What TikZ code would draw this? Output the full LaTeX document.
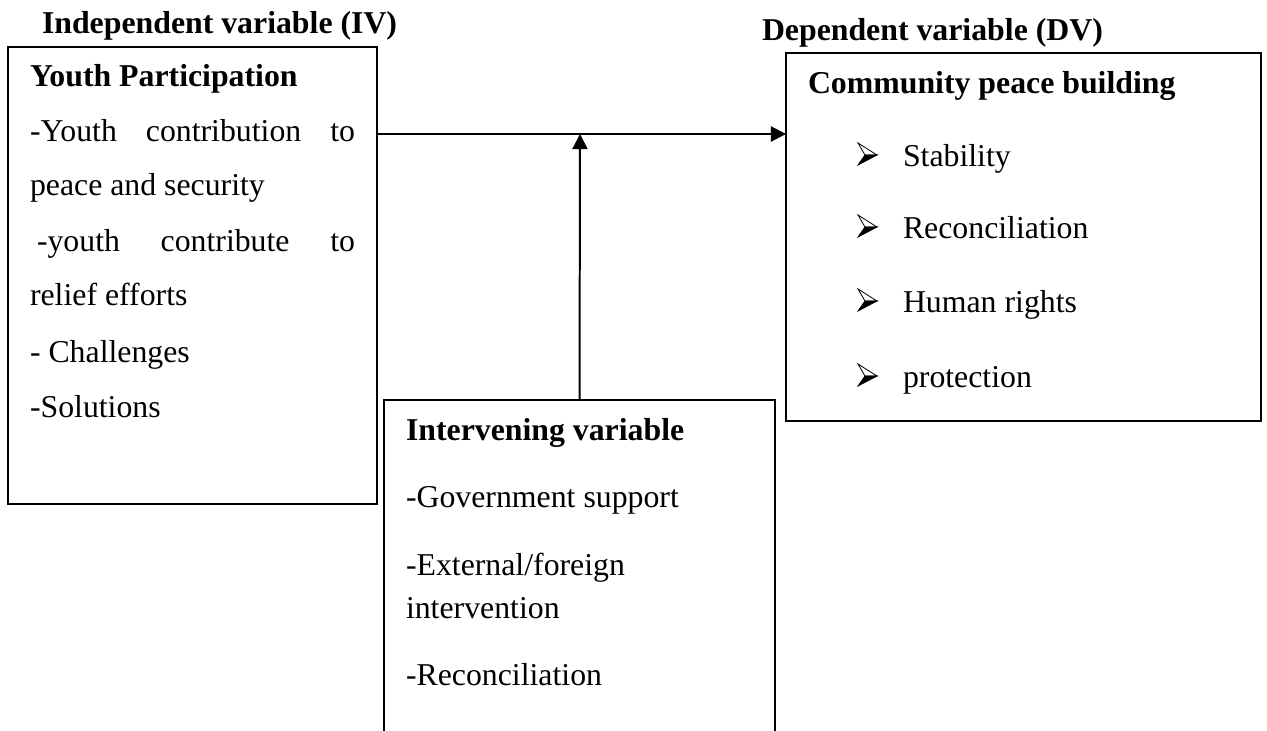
\documentclass[tikz,border=0pt]{standalone}
\usepackage{fontspec}
\setmainfont{Liberation Serif}
\usetikzlibrary{arrows.meta,fit}
\begin{document}
\begin{tikzpicture}[x=0.3774pt,y=-0.3774pt,
  box/.style={draw,line width=0.75pt,inner sep=0pt,outer sep=0pt},
  txt/.style={anchor=base west,inner sep=0pt,outer sep=0pt,font=\fontsize{12}{14}\selectfont},
  hd/.style={txt,font=\fontsize{12}{14}\selectfont\bfseries},
  arr/.style={line width=0.75pt,-{Triangle[length=5.7pt,width=5.7pt]}},
  arrowbullet/.pic={
    \filldraw[fill=white,draw=black,line width=0.3pt,line join=miter] (1,-23) -- (20,-11) -- (8,-11) -- cycle;
    \filldraw[fill=black,draw=black,line width=0.3pt,line join=miter] (8,-11) -- (20,-11) -- (1,-1) -- cycle;
  }]
\useasboundingbox (0,0) rectangle (1267,730);
\begin{scope}
\clip (0,0) rectangle (1267,730);
% boxes
\node[box,fit={(8,47) (377,504)}] (iv) {};
\node[box,fit={(786,53) (1261,421)}] (dv) {};
\node[box,fit={(384,400) (775,760)}] (inv) {};
\end{scope}
% titles
\node[hd] (ivt) at (42,33) {Independent variable (IV)};
\node[hd] (dvt) at (762,40) {Dependent variable (DV)};
% IV content
\node[hd] (iv0) at (30,86) {Youth Participation};
\node[txt] (iv1) at (30,141) {\makebox[122.7pt][s]{-Youth contribution to}};
\node[txt] (iv2) at (30,195) {peace and security};
\node[txt] (iv3) at (37,251) {\makebox[120pt][s]{-youth contribute to}};
\node[txt] (iv4) at (30,305) {relief efforts};
\node[txt] (iv5) at (30,362) {- Challenges};
\node[txt] (iv6) at (30,417) {-Solutions};
% DV content
\node[hd] (dv0) at (808,93) {Community peace building};
\pic at (857,166) {arrowbullet};
\node[txt] (dv1) at (903,166) {Stability};
\pic at (857,238) {arrowbullet};
\node[txt] (dv2) at (903,238) {Reconciliation};
\pic at (857,312) {arrowbullet};
\node[txt] (dv3) at (903,312) {Human rights};
\pic at (857,387) {arrowbullet};
\node[txt] (dv4) at (903,387) {protection};
% Intervening content
\node[hd] (in0) at (406,440) {Intervening variable};
\node[txt] (in1) at (406,507) {-Government support};
\node[txt] (in2) at (406,575) {-External/foreign};
\node[txt] (in3) at (406,618) {intervention};
\node[txt] (in4) at (406,685) {-Reconciliation};
% connectors
\coordinate (j) at (580,134);
\draw[arr] (iv.east |- j) -- (dv.west |- j);
\draw[arr] (inv.north) -- (j);
\end{tikzpicture}
\end{document}
